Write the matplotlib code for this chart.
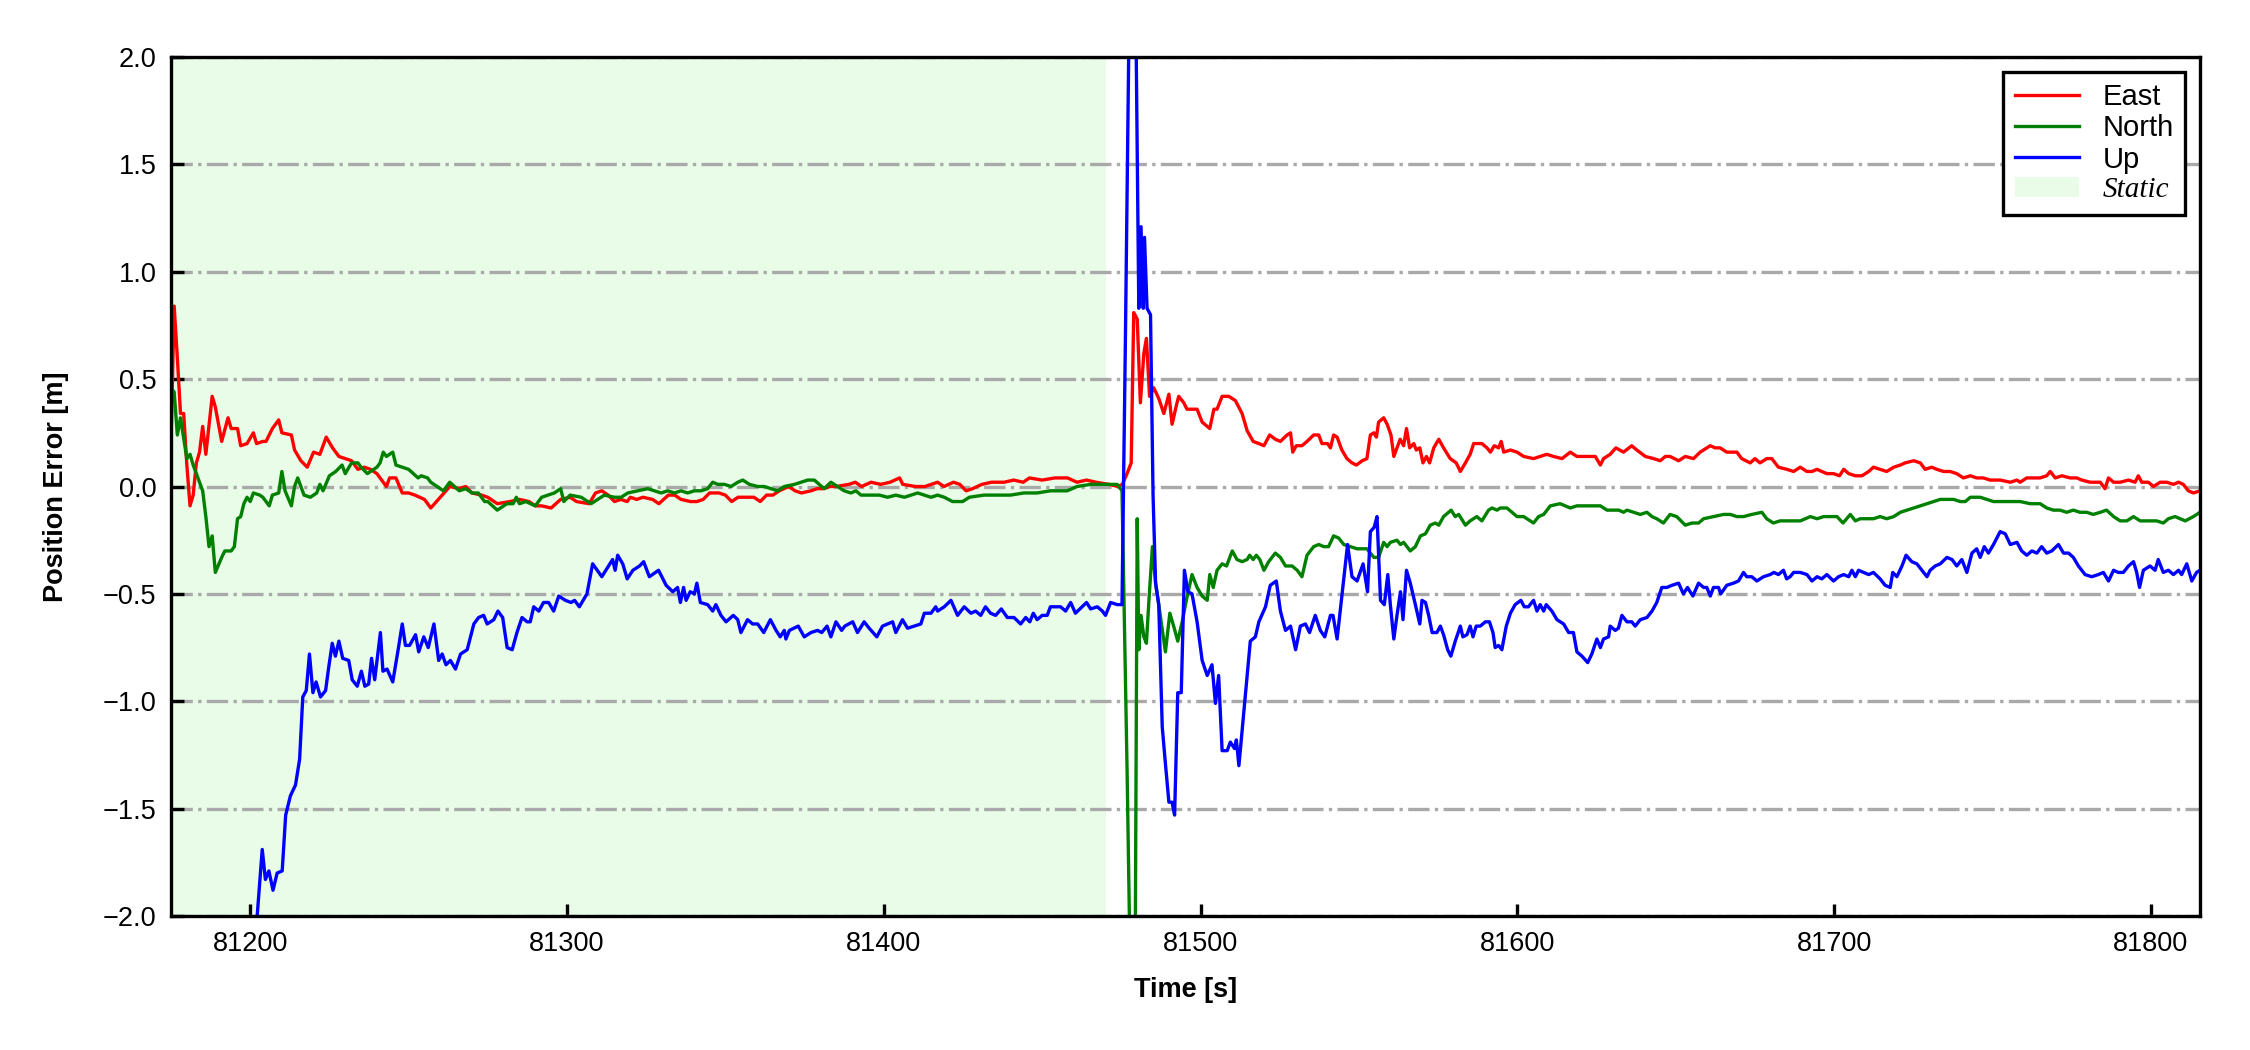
import numpy as np
import matplotlib.pyplot as plt
from matplotlib.patches import Patch
from matplotlib.lines import Line2D

# static period (shaded)
static_start = 81175
static_end = 81470

# East error
east_time = [
    81175, 81176, 81177, 81178, 81179, 81180, 81181, 81182, 81183, 81184,
    81185, 81186, 81188, 81189, 81191, 81193, 81194, 81196, 81197, 81199,
    81201, 81202, 81204, 81205, 81207, 81209, 81210, 81213, 81214, 81216,
    81218, 81220, 81222, 81224, 81226, 81228, 81230, 81232, 81234, 81236,
    81238, 81240, 81243, 81244, 81246, 81248, 81250, 81252, 81255, 81257,
    81260, 81263, 81266, 81268, 81270, 81273, 81275, 81278, 81282, 81285,
    81288, 81290, 81292, 81295, 81298, 81301, 81303, 81307, 81309, 81311,
    81313, 81315, 81317, 81319, 81320, 81322, 81324, 81327, 81329, 81332,
    81334, 81336, 81339, 81341, 81343, 81345, 81348, 81350, 81352, 81354,
    81357, 81359, 81361, 81363, 81365, 81367, 81370, 81372, 81374, 81377,
    81379, 81381, 81383, 81385, 81389, 81391, 81393, 81396, 81399, 81402,
    81405, 81406, 81410, 81413, 81415, 81417, 81419, 81422, 81424, 81426,
    81428, 81431, 81434, 81438, 81441, 81444, 81446, 81450, 81454, 81458,
    81461, 81464, 81467, 81471, 81474, 81475.3, 81476.8, 81478.1, 81478.9, 81480,
    81481, 81482.1, 81482.9, 81483.9, 81485.2, 81486.8, 81488.4, 81490, 81491, 81492.4,
    81493.1, 81494.7, 81495.7, 81497.3, 81498.9, 81500.5, 81502.9, 81504.2, 81505.2, 81506.8,
    81508.9, 81511, 81513.1, 81514.7, 81516.6, 81518.4, 81520, 81521.8, 81523.6, 81525.2,
    81527.3, 81528.4, 81529.1, 81530.2, 81532, 81533.6, 81535.7, 81537.3, 81538.3, 81540.1,
    81541, 81542, 81543.1, 81544.6, 81546.2, 81547.8, 81549.2, 81551, 81552.5, 81553.6,
    81554.7, 81555.5, 81556.2, 81557.8, 81558.9, 81560.1, 81561, 81562, 81563, 81564.1,
    81565, 81566, 81567.3, 81568.1, 81569.2, 81570.2, 81571.3, 81572.3, 81573.6, 81575.2,
    81576.7, 81578.8, 81580.7, 81582, 81583.6, 81585.1, 81586.2, 81588.8, 81590.4, 81591.5,
    81592.7, 81594.1, 81594.9, 81595.7, 81597.8, 81599.9, 81602, 81605.1, 81607.2, 81609.3,
    81611.4, 81614.1, 81616.7, 81618.8, 81622, 81624.6, 81626.2, 81627.2, 81629.3, 81631.1,
    81633.5, 81636.1, 81637.7, 81640.4, 81643, 81645.1, 81646.7, 81648.2, 81650.9, 81653,
    81655.6, 81657.7, 81660.9, 81662.4, 81664, 81666.1, 81669.3, 81670.8, 81673.5, 81675,
    81676.6, 81678.7, 81680.3, 81682.4, 81685.1, 81687.2, 81689.3, 81691.4, 81693, 81694.6,
    81696.1, 81697.7, 81699.8, 81701.7, 81703, 81704.6, 81706.7, 81708.8, 81710.9, 81712.4,
    81714.5, 81716.6, 81718.8, 81720.9, 81722.4, 81725.1, 81727.2, 81728.7, 81730.8, 81732.4,
    81734.5, 81736.6, 81738.7, 81740.8, 81743, 81745, 81747.1, 81749.2, 81752.4, 81755.6,
    81757.7, 81758.7, 81760.8, 81762.9, 81765, 81767.1, 81768.2, 81769.8, 81771.9, 81774.5,
    81776.6, 81778.2, 81780.8, 81784, 81785.5, 81786.6, 81788.2, 81790.3, 81792.9, 81795,
    81796, 81797.1, 81799.2, 81800.8, 81802.9, 81805, 81807.1, 81808.7, 81810.2, 81811.8,
    81813.4, 81815.5]
east_err = [
    0.20, 0.84, 0.60, 0.34, 0.34, 0.10, -0.09, -0.04, 0.11, 0.16,
    0.28, 0.15, 0.42, 0.37, 0.21, 0.32, 0.27, 0.27, 0.19, 0.20,
    0.25, 0.20, 0.21, 0.21, 0.27, 0.31, 0.25, 0.24, 0.17, 0.12,
    0.09, 0.16, 0.15, 0.23, 0.18, 0.14, 0.13, 0.12, 0.08, 0.09,
    0.08, 0.06, 0.00, 0.04, 0.04, -0.03, -0.03, -0.04, -0.06, -0.10,
    -0.05, 0.00, -0.01, 0.00, -0.03, -0.04, -0.05, -0.08, -0.07, -0.06,
    -0.07, -0.09, -0.09, -0.10, -0.06, -0.05, -0.07, -0.08, -0.03, -0.02,
    -0.04, -0.07, -0.06, -0.07, -0.05, -0.06, -0.05, -0.06, -0.08, -0.04,
    -0.04, -0.06, -0.07, -0.07, -0.06, -0.03, -0.03, -0.04, -0.07, -0.05,
    -0.05, -0.05, -0.07, -0.04, -0.04, -0.02, 0.00, -0.02, -0.03, -0.02,
    -0.01, -0.01, 0.00, 0.00, 0.01, 0.02, 0.00, 0.02, 0.01, 0.02,
    0.04, 0.01, 0.00, 0.00, 0.01, 0.02, 0.00, 0.02, 0.01, -0.02,
    -0.01, 0.01, 0.02, 0.02, 0.03, 0.02, 0.04, 0.03, 0.04, 0.04,
    0.02, 0.03, 0.02, 0.01, 0.00, 0.01, 0.06, 0.11, 0.81, 0.78,
    0.39, 0.62, 0.69, 0.42, 0.46, 0.41, 0.34, 0.43, 0.29, 0.38,
    0.42, 0.39, 0.36, 0.36, 0.36, 0.30, 0.27, 0.36, 0.36, 0.42,
    0.42, 0.40, 0.34, 0.26, 0.21, 0.20, 0.19, 0.24, 0.22, 0.21,
    0.24, 0.25, 0.16, 0.19, 0.19, 0.21, 0.24, 0.24, 0.20, 0.20,
    0.18, 0.24, 0.23, 0.17, 0.13, 0.11, 0.10, 0.12, 0.13, 0.24,
    0.25, 0.23, 0.30, 0.32, 0.29, 0.24, 0.14, 0.18, 0.22, 0.19,
    0.27, 0.18, 0.20, 0.17, 0.18, 0.11, 0.14, 0.11, 0.18, 0.22,
    0.18, 0.13, 0.11, 0.07, 0.11, 0.15, 0.20, 0.20, 0.18, 0.16,
    0.19, 0.18, 0.21, 0.16, 0.17, 0.16, 0.14, 0.13, 0.14, 0.15,
    0.14, 0.13, 0.16, 0.14, 0.14, 0.14, 0.10, 0.13, 0.15, 0.18,
    0.16, 0.19, 0.17, 0.14, 0.13, 0.12, 0.14, 0.14, 0.12, 0.14,
    0.13, 0.16, 0.19, 0.18, 0.18, 0.16, 0.16, 0.13, 0.11, 0.13,
    0.11, 0.13, 0.13, 0.09, 0.08, 0.07, 0.09, 0.07, 0.07, 0.08,
    0.07, 0.06, 0.06, 0.05, 0.08, 0.06, 0.05, 0.05, 0.07, 0.09,
    0.08, 0.07, 0.09, 0.10, 0.11, 0.12, 0.11, 0.08, 0.09, 0.08,
    0.07, 0.07, 0.06, 0.04, 0.05, 0.04, 0.04, 0.03, 0.03, 0.02,
    0.03, 0.02, 0.04, 0.04, 0.04, 0.05, 0.07, 0.04, 0.05, 0.04,
    0.04, 0.03, 0.02, 0.02, -0.01, 0.04, 0.02, 0.02, 0.03, 0.02,
    0.05, 0.02, 0.02, 0.00, 0.02, 0.02, 0.01, 0.02, 0.01, -0.02,
    -0.03, -0.02]

# North error
north_time = [
    81175, 81176, 81177, 81178, 81180, 81181, 81182, 81183, 81185, 81186,
    81187, 81188, 81189, 81191, 81192, 81194, 81195, 81196, 81197, 81198,
    81199, 81200, 81201, 81203, 81204, 81206, 81207, 81209, 81210, 81211,
    81213, 81214, 81215, 81217, 81219, 81221, 81222, 81223, 81225, 81227,
    81229, 81230, 81232, 81234, 81235, 81237, 81240, 81241, 81242, 81243,
    81245, 81246, 81250, 81253, 81254, 81256, 81257, 81259, 81261, 81263,
    81266, 81268, 81270, 81272, 81274, 81275, 81278, 81281, 81283, 81284,
    81285, 81287, 81290, 81292, 81294, 81296, 81298, 81299, 81301, 81304.5,
    81307.6, 81309.7, 81311.8, 81315, 81317.1, 81319.2, 81322.3, 81325.5, 81327.6, 81329.7,
    81331.8, 81333.9, 81336, 81338.1, 81340.2, 81342.3, 81344.4, 81346, 81347.6, 81349.7,
    81351.8, 81353.9, 81355.5, 81357.6, 81360.2, 81362.3, 81364.4, 81366.5, 81368.6, 81371.8,
    81373.9, 81376, 81378.1, 81379.6, 81381.2, 81383.3, 81385.4, 81387.5, 81389.6, 81391.2,
    81392.8, 81396, 81398.6, 81401.2, 81403.8, 81406.5, 81408.6, 81410.7, 81412.8, 81414.9,
    81417, 81419.1, 81421.7, 81424.9, 81427, 81431.6, 81435.8, 81440, 81444.2, 81448.4,
    81452.6, 81457.9, 81461, 81465.3, 81469.5, 81473.7, 81475.2, 81476.8, 81478, 81479.3,
    81480, 81480.5, 81481.2, 81482.1, 81482.9, 81483.7, 81484.8, 81485.8, 81486.8, 81488.9,
    81490.3, 81491.5, 81492.8, 81494.2, 81495.5, 81497.3, 81498.9, 81500.5, 81502.1, 81502.9,
    81504, 81505.2, 81506.8, 81508.2, 81510, 81511.5, 81513.1, 81514.7, 81515.5, 81516.6,
    81517.6, 81518.7, 81520, 81521.5, 81523.6, 81525.2, 81526.8, 81528.9, 81530.5, 81532,
    81533.6, 81535.7, 81537.3, 81538.9, 81540.4, 81542, 81543.6, 81545.2, 81547.3, 81549.4,
    81552.5, 81554.7, 81556.2, 81557.8, 81558.9, 81559.9, 81562, 81563.1, 81564.1, 81566.2,
    81567.8, 81569.4, 81571, 81572.5, 81574.1, 81575.2, 81576.7, 81579.1, 81580.4, 81581.5,
    81583.6, 81585.1, 81587.2, 81588.8, 81590.9, 81592, 81593.6, 81594.6, 81596.7, 81598.3,
    81599.9, 81602, 81605.1, 81606.7, 81608.3, 81610.4, 81613.5, 81616.7, 81618.8, 81622,
    81626.2, 81628.3, 81630.4, 81632, 81633.5, 81634.6, 81636.7, 81638.8, 81640.9, 81642.5,
    81644, 81646.1, 81648.2, 81650.3, 81653, 81655.1, 81657.2, 81658.8, 81661.9, 81665.1,
    81667.2, 81669.3, 81671.4, 81674, 81677.2, 81678.7, 81680.8, 81682.9, 81685.1, 81687.2,
    81689.3, 81690.9, 81692.5, 81694.6, 81696.7, 81698.8, 81700.9, 81702.8, 81705.1, 81706.7,
    81708.2, 81710.3, 81712.4, 81714.5, 81716.6, 81718.8, 81720.9, 81723, 81725.1, 81727.2,
    81729.3, 81731.4, 81733.5, 81735.6, 81737.7, 81739.8, 81741.4, 81743, 81746.1, 81748.2,
    81750.3, 81752.4, 81755.6, 81758.7, 81761.9, 81765, 81767.1, 81769.2, 81771.3, 81773.4,
    81775.5, 81777.6, 81779.7, 81781.8, 81784, 81786, 81788.2, 81790.3, 81792.4, 81794.5,
    81796.6, 81798.7, 81801.8, 81803.9, 81805.5, 81807.6, 81809.2, 81810.8, 81813.4, 81815.5]
north_err = [
    0.46, 0.44, 0.24, 0.32, 0.13, 0.15, 0.10, 0.06, -0.02, -0.14,
    -0.28, -0.23, -0.40, -0.33, -0.30, -0.30, -0.28, -0.15, -0.14, -0.08,
    -0.05, -0.07, -0.03, -0.04, -0.05, -0.09, -0.04, -0.03, 0.07, -0.02,
    -0.09, 0.00, 0.04, -0.04, -0.05, -0.03, 0.01, -0.02, 0.05, 0.07,
    0.10, 0.06, 0.11, 0.11, 0.09, 0.06, 0.09, 0.11, 0.16, 0.14,
    0.16, 0.10, 0.08, 0.04, 0.05, 0.04, 0.02, 0.00, -0.02, 0.02,
    -0.02, -0.01, -0.03, -0.03, -0.07, -0.07, -0.11, -0.08, -0.08, -0.05,
    -0.08, -0.07, -0.09, -0.05, -0.04, -0.03, -0.01, -0.07, -0.04, -0.05,
    -0.08, -0.06, -0.04, -0.05, -0.05, -0.03, -0.02, -0.01, -0.02, -0.03,
    -0.02, -0.03, -0.02, -0.03, -0.02, -0.02, -0.01, 0.02, 0.01, 0.01,
    0.00, 0.02, 0.03, 0.01, 0.00, 0.00, -0.01, -0.02, 0.00, 0.01,
    0.02, 0.03, 0.03, 0.01, -0.01, 0.02, 0.00, -0.02, -0.03, -0.02,
    -0.04, -0.04, -0.04, -0.05, -0.04, -0.05, -0.04, -0.03, -0.04, -0.05,
    -0.04, -0.05, -0.07, -0.07, -0.05, -0.04, -0.04, -0.04, -0.03, -0.03,
    -0.02, -0.02, 0.00, 0.01, 0.01, 0.01, -0.02, -1.32, -2.45, -2.40,
    -0.15, -0.76, -0.60, -0.70, -0.73, -0.53, -0.28, -0.45, -0.55, -0.77,
    -0.59, -0.65, -0.72, -0.63, -0.53, -0.41, -0.47, -0.51, -0.53, -0.41,
    -0.47, -0.39, -0.36, -0.37, -0.30, -0.34, -0.35, -0.34, -0.32, -0.34,
    -0.32, -0.34, -0.39, -0.35, -0.31, -0.33, -0.37, -0.37, -0.39, -0.42,
    -0.32, -0.28, -0.27, -0.28, -0.28, -0.23, -0.24, -0.27, -0.28, -0.29,
    -0.29, -0.33, -0.33, -0.26, -0.28, -0.26, -0.25, -0.27, -0.26, -0.30,
    -0.28, -0.23, -0.22, -0.18, -0.17, -0.18, -0.14, -0.11, -0.14, -0.13,
    -0.18, -0.16, -0.14, -0.16, -0.11, -0.10, -0.11, -0.10, -0.10, -0.12,
    -0.14, -0.14, -0.17, -0.14, -0.13, -0.09, -0.08, -0.10, -0.09, -0.09,
    -0.09, -0.11, -0.11, -0.11, -0.12, -0.11, -0.12, -0.13, -0.12, -0.14,
    -0.15, -0.17, -0.13, -0.14, -0.18, -0.17, -0.17, -0.15, -0.14, -0.13,
    -0.13, -0.14, -0.14, -0.13, -0.12, -0.15, -0.17, -0.16, -0.16, -0.16,
    -0.16, -0.15, -0.14, -0.15, -0.14, -0.14, -0.14, -0.17, -0.13, -0.16,
    -0.15, -0.15, -0.15, -0.14, -0.15, -0.14, -0.12, -0.11, -0.10, -0.09,
    -0.08, -0.07, -0.06, -0.06, -0.06, -0.07, -0.07, -0.05, -0.05, -0.06,
    -0.07, -0.07, -0.07, -0.07, -0.08, -0.08, -0.10, -0.11, -0.11, -0.12,
    -0.11, -0.12, -0.12, -0.13, -0.12, -0.11, -0.14, -0.16, -0.16, -0.14,
    -0.16, -0.16, -0.16, -0.17, -0.15, -0.14, -0.15, -0.16, -0.14, -0.12]

# Up error
up_time = [
    81175, 81200, 81202.2, 81203.8, 81204.8, 81205.9, 81207.2, 81208.5, 81210.1, 81211.2,
    81212.7, 81214.3, 81215.6, 81216.6, 81217.7, 81218.7, 81219.8, 81220.8, 81222.2, 81223.8,
    81224.8, 81225.9, 81226.9, 81228, 81229.2, 81231.1, 81232.2, 81233.8, 81235.1, 81236.2,
    81237.4, 81238.3, 81239.3, 81241.1, 81241.9, 81243.2, 81245, 81246.7, 81248, 81249,
    81250.3, 81252.2, 81253.2, 81254.8, 81256.2, 81258, 81259.5, 81260.6, 81261.8, 81263.2,
    81264.8, 81266.4, 81268.5, 81270.6, 81272.1, 81273.7, 81274.8, 81276.9, 81278.2, 81279.7,
    81281.1, 81282.7, 81284.2, 81285.8, 81287.4, 81288.4, 81289.5, 81291.1, 81292.6, 81294.2,
    81295.8, 81297.4, 81299.5, 81301.3, 81302.4, 81303.9, 81306.3, 81308.1, 81311, 81313.1,
    81314.4, 81315.2, 81316, 81317.6, 81319, 81320.8, 81322.9, 81324.2, 81326, 81328.9,
    81331.3, 81333.4, 81334.9, 81335.8, 81336.8, 81337.6, 81338.9, 81340.2, 81341, 81342.1,
    81344.4, 81346, 81347, 81348.6, 81350.2, 81352.5, 81353.9, 81354.9, 81357, 81358.6,
    81360.2, 81362.1, 81364.2, 81366, 81367.3, 81368.6, 81369.1, 81370.2, 81373, 81374.9,
    81377, 81379.1, 81380.4, 81382.1, 81383.3, 81384.9, 81386.7, 81387.7, 81390.2, 81391.7,
    81393.8, 81395.4, 81397.8, 81399.6, 81402.8, 81403.8, 81405.9, 81407.5, 81409.6, 81411.7,
    81412.8, 81414.9, 81416.4, 81417, 81419.1, 81421.2, 81423.3, 81425.4, 81427.5, 81429,
    81430.6, 81432.1, 81433.7, 81435.3, 81437.1, 81439, 81441.1, 81443.2, 81444.8, 81446.1,
    81447.2, 81448.4, 81450, 81451.6, 81452.6, 81454.2, 81455.8, 81457.4, 81459, 81460.5,
    81462.6, 81464, 81465.3, 81467.4, 81469, 81470, 81471.6, 81473.7, 81475.2, 81476.3,
    81477.3, 81478.4, 81479.7, 81480.5, 81481.2, 81481.9, 81482.3, 81483.1, 81484.2, 81485,
    81485.8, 81486.8, 81487.9, 81488.9, 81490, 81491, 81491.8, 81492.8, 81493.9, 81494.9,
    81496, 81497.3, 81498.9, 81500.5, 81502.1, 81503.6, 81504.7, 81505.7, 81506.8, 81508.4,
    81509.4, 81510.7, 81511.3, 81512.1, 81513.6, 81515.7, 81517.3, 81518.4, 81520.5, 81522,
    81523.9, 81525.2, 81526.8, 81528.4, 81530, 81531.5, 81533.1, 81534.4, 81536.2, 81537.8,
    81539.2, 81541, 81541.8, 81543.1, 81544.6, 81546.4, 81547.8, 81549.4, 81551.3, 81552.7,
    81553.6, 81554.8, 81555.7, 81556.8, 81558, 81559.1, 81559.9, 81561, 81562, 81563.1,
    81563.9, 81565, 81566.2, 81567.8, 81569.2, 81569.9, 81571, 81572, 81573.1, 81574.6,
    81575.7, 81576.7, 81578, 81579, 81580.4, 81582, 81582.8, 81584.1, 81585.1, 81586,
    81587, 81588.3, 81589.9, 81591.2, 81592.3, 81593, 81594.1, 81595.1, 81596.5, 81597.8,
    81599.3, 81601.1, 81602.2, 81603.5, 81605.1, 81606.2, 81607.2, 81608.3, 81609.1, 81610.9,
    81612.5, 81614.6, 81616.2, 81617.7, 81618.8, 81620.4, 81622.2, 81623.5, 81625.1, 81626.2,
    81627.2, 81628.8, 81629.3, 81630.9, 81631.9, 81633, 81634.6, 81636.1, 81637.2, 81638.8,
    81640.9, 81642.5, 81644, 81645.6, 81647.2, 81648.8, 81650.9, 81652.4, 81653.7, 81655.4,
    81657.2, 81658.8, 81659.8, 81660.9, 81661.9, 81663.5, 81664.2, 81666.1, 81668.2, 81669.8,
    81671.4, 81672.4, 81674, 81675.6, 81677.7, 81679.8, 81681, 81682.4, 81684, 81685,
    81686.1, 81687.2, 81689.3, 81691.4, 81693, 81694.6, 81696.1, 81697.7, 81699.8, 81701.4,
    81703, 81704.6, 81705.6, 81706.7, 81707.7, 81709.3, 81710.9, 81712.4, 81714.5, 81716.1,
    81717.7, 81718.5, 81719.8, 81721.4, 81722.7, 81724.5, 81726.1, 81727.7, 81729.3, 81730.3,
    81731.9, 81733.5, 81735.6, 81737.2, 81738.7, 81740.3, 81741.9, 81743.5, 81745, 81746.1,
    81747.4, 81748.7, 81750.3, 81752.4, 81754, 81755.6, 81757.7, 81759.2, 81760.8, 81762.4,
    81764, 81765.5, 81767.1, 81768.7, 81770.8, 81772.4, 81774, 81775.5, 81777.1, 81779.2,
    81781.3, 81783.4, 81785, 81786.6, 81788.2, 81789.7, 81791.3, 81792.9, 81794.5, 81795.5,
    81796.4, 81797.6, 81799.7, 81801.3, 81802.3, 81803.9, 81805.5, 81807.1, 81808.7, 81809.7,
    81811.3, 81812.9, 81814.4, 81815.5]
up_err = [
    -5.00, -2.60, -2.00, -1.69, -1.83, -1.79, -1.88, -1.80, -1.79, -1.53,
    -1.44, -1.39, -1.27, -0.98, -0.95, -0.78, -0.96, -0.91, -0.98, -0.95,
    -0.84, -0.73, -0.79, -0.72, -0.80, -0.81, -0.90, -0.93, -0.86, -0.93,
    -0.92, -0.80, -0.90, -0.68, -0.86, -0.85, -0.91, -0.76, -0.64, -0.74,
    -0.74, -0.69, -0.77, -0.70, -0.75, -0.64, -0.81, -0.78, -0.83, -0.81,
    -0.85, -0.78, -0.76, -0.64, -0.61, -0.60, -0.64, -0.62, -0.58, -0.61,
    -0.75, -0.76, -0.68, -0.61, -0.63, -0.63, -0.56, -0.58, -0.54, -0.54,
    -0.58, -0.51, -0.53, -0.54, -0.53, -0.56, -0.50, -0.36, -0.42, -0.37,
    -0.34, -0.39, -0.32, -0.36, -0.43, -0.39, -0.37, -0.35, -0.42, -0.39,
    -0.46, -0.49, -0.47, -0.54, -0.47, -0.53, -0.49, -0.50, -0.45, -0.54,
    -0.55, -0.58, -0.55, -0.60, -0.63, -0.60, -0.62, -0.68, -0.62, -0.64,
    -0.64, -0.68, -0.62, -0.67, -0.70, -0.67, -0.71, -0.67, -0.65, -0.70,
    -0.68, -0.67, -0.68, -0.65, -0.70, -0.63, -0.67, -0.65, -0.63, -0.68,
    -0.63, -0.66, -0.70, -0.65, -0.63, -0.68, -0.62, -0.66, -0.65, -0.64,
    -0.59, -0.59, -0.56, -0.58, -0.56, -0.53, -0.60, -0.56, -0.59, -0.58,
    -0.60, -0.56, -0.59, -0.60, -0.57, -0.61, -0.61, -0.64, -0.61, -0.63,
    -0.59, -0.62, -0.60, -0.60, -0.56, -0.56, -0.56, -0.58, -0.54, -0.59,
    -0.56, -0.54, -0.57, -0.56, -0.58, -0.60, -0.54, -0.55, -0.55, 0.72,
    2.00, 2.80, 2.00, 0.83, 1.21, 0.83, 1.16, 0.83, 0.80, -0.04,
    -0.45, -0.55, -1.12, -1.29, -1.47, -1.47, -1.53, -0.96, -0.96, -0.39,
    -0.49, -0.50, -0.63, -0.81, -0.88, -0.83, -1.01, -0.88, -1.23, -1.23,
    -1.19, -1.22, -1.18, -1.30, -1.06, -0.72, -0.70, -0.63, -0.56, -0.46,
    -0.44, -0.58, -0.67, -0.65, -0.76, -0.65, -0.64, -0.68, -0.60, -0.67,
    -0.70, -0.60, -0.60, -0.71, -0.51, -0.27, -0.42, -0.44, -0.36, -0.49,
    -0.21, -0.19, -0.14, -0.53, -0.55, -0.41, -0.55, -0.71, -0.60, -0.49,
    -0.62, -0.39, -0.45, -0.55, -0.64, -0.53, -0.54, -0.60, -0.68, -0.68,
    -0.65, -0.69, -0.76, -0.79, -0.72, -0.65, -0.70, -0.69, -0.65, -0.70,
    -0.65, -0.65, -0.63, -0.63, -0.68, -0.75, -0.74, -0.76, -0.65, -0.59,
    -0.55, -0.53, -0.56, -0.56, -0.53, -0.58, -0.55, -0.58, -0.55, -0.58,
    -0.62, -0.64, -0.68, -0.68, -0.77, -0.79, -0.82, -0.78, -0.71, -0.75,
    -0.71, -0.70, -0.65, -0.67, -0.66, -0.60, -0.63, -0.63, -0.65, -0.62,
    -0.61, -0.58, -0.54, -0.47, -0.47, -0.46, -0.45, -0.50, -0.47, -0.51,
    -0.45, -0.47, -0.47, -0.51, -0.47, -0.47, -0.50, -0.46, -0.45, -0.44,
    -0.40, -0.42, -0.42, -0.44, -0.42, -0.41, -0.40, -0.41, -0.39, -0.43,
    -0.42, -0.40, -0.40, -0.41, -0.44, -0.42, -0.43, -0.41, -0.44, -0.42,
    -0.41, -0.42, -0.39, -0.42, -0.39, -0.40, -0.41, -0.40, -0.43, -0.46,
    -0.47, -0.40, -0.42, -0.37, -0.32, -0.35, -0.36, -0.39, -0.42, -0.39,
    -0.37, -0.36, -0.33, -0.34, -0.37, -0.34, -0.40, -0.31, -0.29, -0.33,
    -0.28, -0.31, -0.27, -0.21, -0.22, -0.27, -0.26, -0.30, -0.32, -0.30,
    -0.31, -0.28, -0.31, -0.30, -0.27, -0.31, -0.31, -0.33, -0.37, -0.41,
    -0.42, -0.41, -0.40, -0.44, -0.39, -0.40, -0.40, -0.37, -0.35, -0.40,
    -0.47, -0.39, -0.37, -0.39, -0.34, -0.40, -0.39, -0.41, -0.39, -0.41,
    -0.36, -0.44, -0.40, -0.39]

series_names = ['East', 'North', 'Up']
series_colors = ['red', 'green', 'blue']

plt.rcParams['font.family'] = ['Liberation Sans', 'DejaVu Sans']
plt.rcParams['font.size'] = 6.5
plt.rcParams['axes.unicode_minus'] = True

fig = plt.figure(figsize=(7.5, 3.5), dpi=300)
ax = fig.add_axes([0.076, 0.1276, 0.9018, 0.8181])

static_color = '#e8fce8'
ax.axvspan(static_start, static_end, facecolor=static_color, edgecolor='none', zorder=0)

data = [(east_time, east_err), (north_time, north_err), (up_time, up_err)]
for (t, v), name, c in zip(data, series_names, series_colors):
    ax.plot(t, v, color=c, lw=0.8, label=name, zorder=2)

ax.set_xlim(81175, 81815.5)
ax.set_ylim(-2.0, 2.0)
ax.set_yticks(np.arange(-2.0, 2.01, 0.5))
ax.set_xticks(np.arange(81200, 81801, 100))
ax.grid(axis='y', linestyle='-.', color='darkgray', lw=0.8, zorder=1)

ax.tick_params(direction='in', length=3, width=0.8, labelsize=6.5, pad=3.5)
for s in ax.spines.values():
    s.set_linewidth(0.8)

ax.set_xlabel('Time [s]', fontweight='bold', fontsize=6.5, labelpad=5)
ax.set_ylabel('Position Error [m]', fontweight='bold', fontsize=6.5, labelpad=8)

handles = [Line2D([], [], color=c, lw=0.8) for c in series_colors]
handles.append(Patch(facecolor=static_color, edgecolor='none'))
leg = ax.legend(handles, series_names + ['Static'], loc='upper right',
                fancybox=False, framealpha=1, edgecolor='black',
                labelspacing=0.11, handlelength=2.2, handletextpad=0.8,
                borderpad=0.4, fontsize=7)
leg.get_frame().set_linewidth(0.8)
st = leg.get_texts()[3]
st.set_fontfamily(['Liberation Serif'])
st.set_fontstyle('italic')

fig.savefig('out.png', dpi=300)
